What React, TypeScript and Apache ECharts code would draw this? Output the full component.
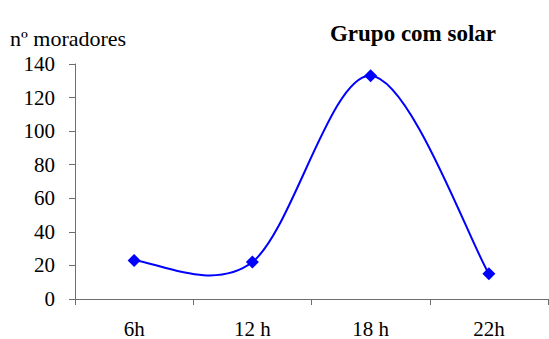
import React, { useEffect, useRef } from "react";
import * as echarts from "echarts";

const categories = ["6h", "12 h", "18 h", "22h"];
const residents = [23, 22, 133, 15];
const yTicks = { min: 0, max: 140, interval: 20 };

const FONT = "Liberation Serif";

export default function App() {
  const ref = useRef<HTMLDivElement>(null);
  useEffect(() => {
    const chart = echarts.init(ref.current!, null, { renderer: "svg" });
    chart.setOption({
      animation: false,
      backgroundColor: "#ffffff",
      textStyle: { fontFamily: FONT },
      title: {
        text: "Grupo com solar",
        left: 408,
        top: 17,
        textAlign: "center",
        textStyle: { fontFamily: FONT, fontSize: 23, fontWeight: "bold", color: "#000", lineHeight: 23 },
      },
      graphic: [
        {
          type: "text",
          left: 10,
          top: 27,
          style: { text: "nº moradores", fontFamily: FONT, fontSize: 22, fill: "#000" },
        },
      ],
      grid: { left: 75, right: 1, top: 64, bottom: 40, containLabel: false },
      xAxis: {
        type: "category",
        data: categories,
        boundaryGap: true,
        axisLine: { lineStyle: { color: "#6e6e6e", width: 1 } },
        axisTick: { show: true, length: 6, lineStyle: { color: "#6e6e6e" } },
        axisLabel: { fontFamily: FONT, fontSize: 21, color: "#000", margin: 19 },
        splitLine: { show: false },
      },
      yAxis: {
        type: "value",
        min: yTicks.min,
        max: yTicks.max,
        interval: yTicks.interval,
        axisLine: { show: true, lineStyle: { color: "#6e6e6e", width: 1 } },
        axisTick: { show: true, length: 6, lineStyle: { color: "#6e6e6e" } },
        axisLabel: { fontFamily: FONT, fontSize: 21, color: "#000", margin: 20 },
        splitLine: { show: false },
      },
      series: [
        {
          type: "custom",
          coordinateSystem: "cartesian2d",
          data: residents.map((v, i) => [i, v]),
          encode: { x: 0, y: 1 },
          clip: false,
          silent: true,
          renderItem: (params: any, api: any) => {
            const i = params.dataIndex;
            const n = residents.length;
            if (i >= n - 1) return null;
            const P = (k: number) => {
              const kk = Math.max(0, Math.min(n - 1, k));
              return api.coord([kk, residents[kk]]);
            };
            const p0 = P(i - 1), p1 = P(i), p2 = P(i + 1), p3 = P(i + 2);
            const c1 = [p1[0] + (p2[0] - p0[0]) / 6, p1[1] + (p2[1] - p0[1]) / 6];
            const c2 = [p2[0] - (p3[0] - p1[0]) / 6, p2[1] - (p3[1] - p1[1]) / 6];
            return {
              type: "bezierCurve",
              shape: {
                x1: p1[0], y1: p1[1],
                cpx1: c1[0], cpy1: c1[1],
                cpx2: c2[0], cpy2: c2[1],
                x2: p2[0], y2: p2[1],
              },
              style: { stroke: "#0000ff", lineWidth: 2, fill: "none" },
            };
          },
          z: 2,
        },
        {
          type: "line",
          data: residents,
          symbol: "diamond",
          symbolSize: 13,
          showSymbol: true,
          lineStyle: { width: 0, opacity: 0 },
          itemStyle: { color: "#0000ff" },
          z: 3,
        },
      ],
    });
    return () => chart.dispose();
  }, []);
  return <div ref={ref} style={{ width: 549, height: 339, position: "absolute", left: 0, top: 0 }} />;
}
